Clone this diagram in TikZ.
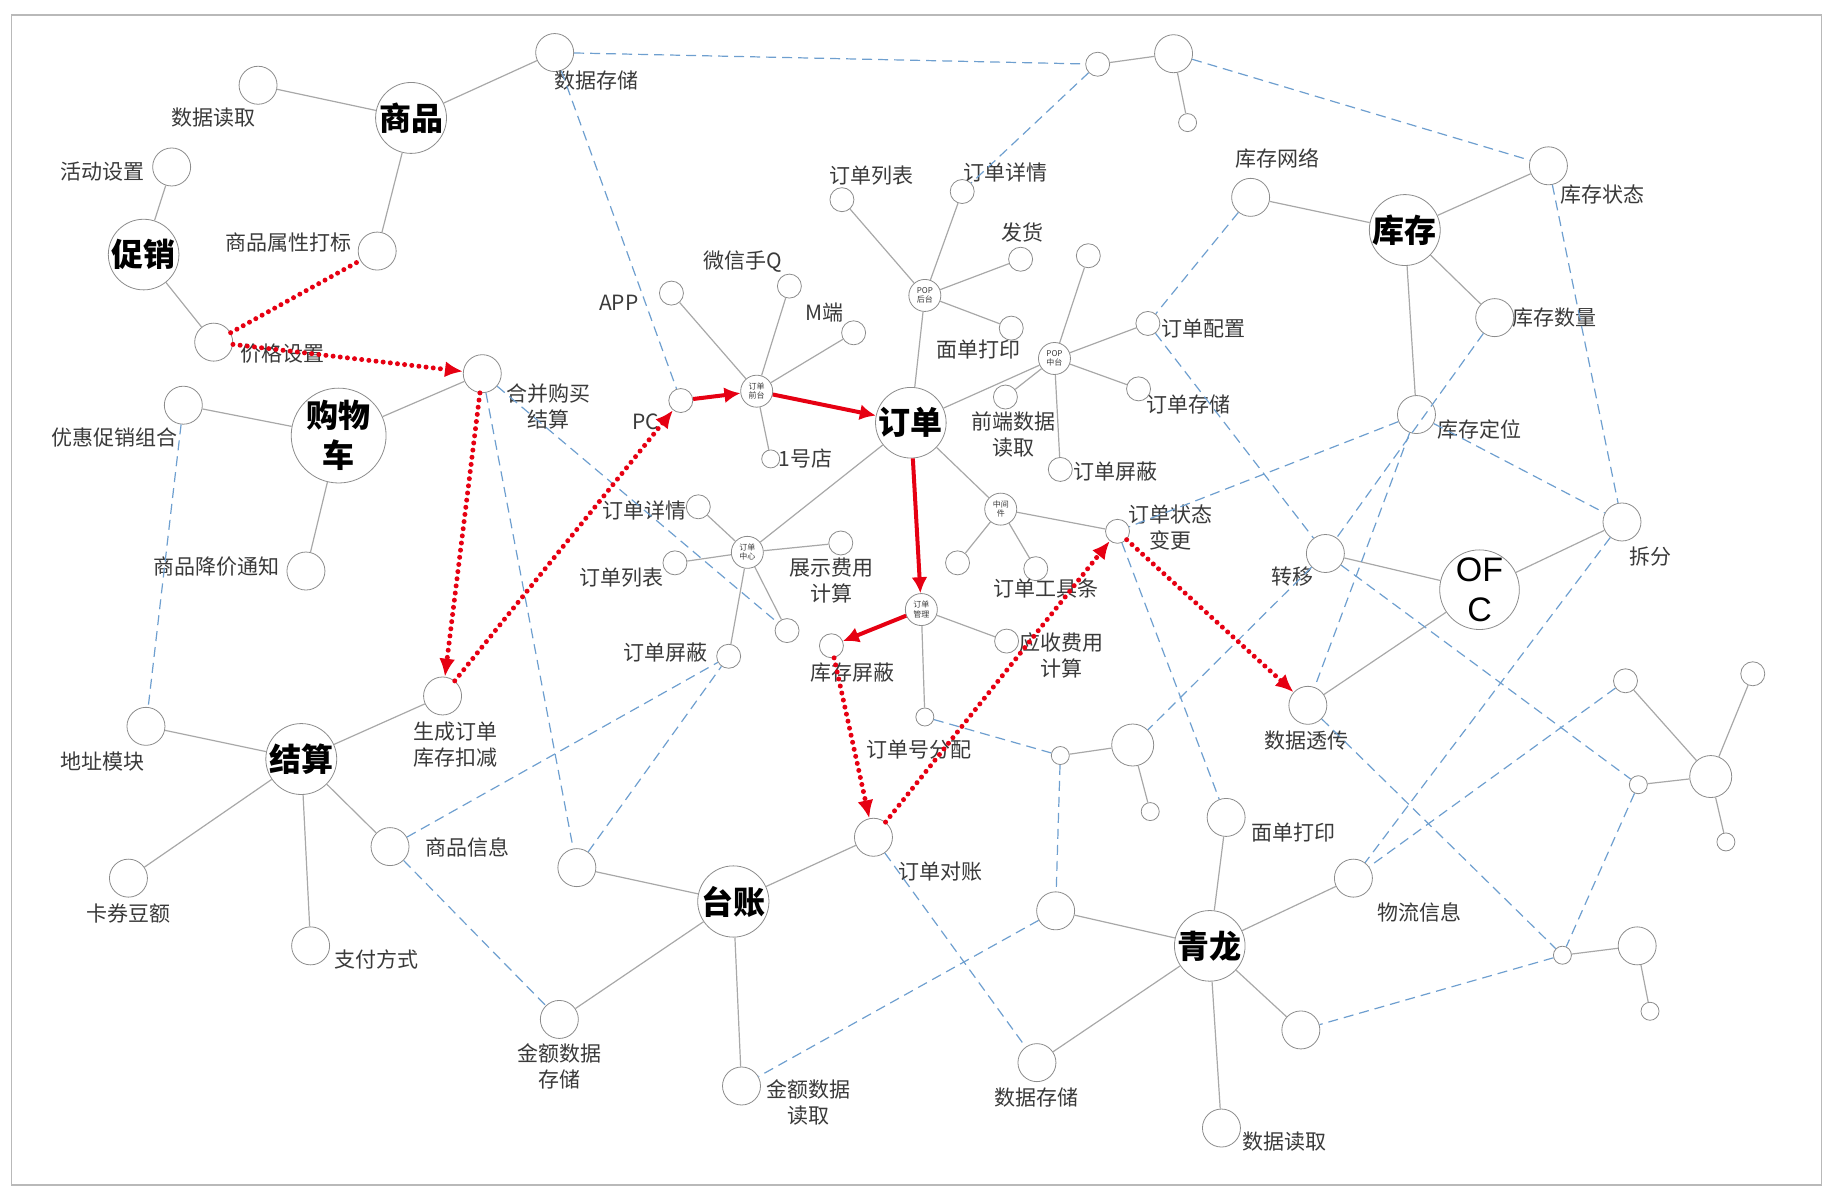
\documentclass[tikz,border=0pt]{standalone}
\usepackage{fontspec}
\setmainfont{Noto Sans CJK SC}
\newfontfamily\latinsans{Liberation Sans}
\usepackage{tikz}
\usetikzlibrary{arrows.meta,positioning}
\definecolor{NodeGray}{HTML}{8C8C8C}
\definecolor{LinkGray}{HTML}{A8A8A8}
\definecolor{LinkBlue}{HTML}{6E9FCF}
\definecolor{FlowRed}{HTML}{E60012}
\definecolor{TextGray}{HTML}{3A3A3A}

\begin{document}
\begin{tikzpicture}[x=0.5838pt,y=-0.5838pt, every node/.style={font=\fontsize{10.5}{13}\selectfont,text=TextGray}, hub/.style={circle,draw=NodeGray,fill=white,minimum size=35pt,inner sep=0pt,font=\fontsize{16}{20}\selectfont\bfseries,text=black,align=center}, leaf/.style={circle,draw=NodeGray,fill=white,minimum size=19pt,inner sep=0pt}, twig/.style={circle,draw=NodeGray,fill=white,minimum size=12pt,inner sep=0pt}, bud/.style={circle,draw=NodeGray,fill=white,minimum size=9pt,inner sep=0pt}, sub/.style={circle,draw=NodeGray,fill=white,minimum size=16pt,inner sep=0pt,font=\fontsize{4}{4.6}\selectfont,align=center}, lbl/.style={align=center,inner sep=1pt}, link/.style={draw=LinkGray,line width=0.6pt}, xlink/.style={draw=LinkBlue,line width=0.6pt,dash pattern=on 5pt off 3pt}, flow/.style={draw=FlowRed,line width=2pt,-{Latex[length=8pt,width=8pt]}}, trace/.style={draw=FlowRed,line width=2.5pt,line cap=round,dash pattern=on 0pt off 3.6pt}, trace arrow/.style={trace,-{Latex[length=9pt,width=8pt]}}]
\useasboundingbox (0,0) rectangle (1568,1019);
\draw[gray!55,line width=0.8pt] (10,13) rectangle (1560,1015);

% hubs
\node[hub] (goods) at (352,101) {商品};
\node[hub] (promo) at (123,218) {促销};
\node[hub] (cart) at (290,373) {购物\\车};
\node[hub] (settle) at (258,650) {结算};
\node[hub] (ledger) at (628,772) {台账};
\node[hub] (order) at (780,362) {订单};
\node[hub] (stock) at (1203,197) {库存};
\node[hub,font=\fontsize{17}{20}\selectfont\latinsans] (ofc) at (1267,505) {OF\\C};
\node[hub] (qinglong) at (1036,810) {青龙};

% sub centres
\node[sub] (front) at (648,335) {订单\\前台};
\node[sub] (popb) at (792,253) {POP\\后台};
\node[sub] (popm) at (903,307) {POP\\中台};
\node[sub] (mware) at (857,436) {中间\\件};
\node[sub] (ocenter) at (640,473) {订单\\中心};
\node[sub] (omgr) at (789,522) {订单\\管理};

% leaves
\node[leaf] (g-read) at (221,73) {};
\node[leaf] (g-store) at (475,45) {};
\node[leaf] (p-act) at (147,143) {};
\node[leaf] (g-tag) at (323,215) {};
\node[leaf] (p-price) at (183,293) {};
\node[leaf] (c-merge) at (413,320) {};
\node[leaf] (c-combo) at (157,347) {};
\node[leaf] (c-notify) at (262,489) {};
\node[leaf] (s-addr) at (125,622) {};
\node[leaf] (s-gen) at (379,596) {};
\node[leaf] (s-card) at (110,752) {};
\node[leaf] (s-pay) at (266,810) {};
\node[leaf] (s-info) at (334,725) {};
\node[leaf] (l-x) at (494,743) {};
\node[leaf] (l-store) at (479,873) {};
\node[leaf] (l-read) at (635,930) {};
\node[leaf] (l-check) at (748,717) {};
\node[leaf] (q-store) at (888,910) {};
\node[leaf] (q-x) at (904,780) {};
\node[leaf] (q-print) at (1050,700) {};
\node[leaf] (q-logi) at (1159,752) {};
\node[leaf] (q-y) at (1114,882) {};
\node[leaf] (q-read) at (1046,966) {};
\node[leaf] (k-net) at (1071,169) {};
\node[leaf] (k-state) at (1326,142) {};
\node[leaf] (k-num) at (1280,272) {};
\node[leaf] (k-loc) at (1213,355) {};
\node[leaf] (o-move) at (1135,474) {};
\node[leaf] (o-pass) at (1120,604) {};
\node[leaf] (o-split) at (1389,447) {};
\node[leaf] (top-hub) at (1005,46) {};
\node[leaf,minimum size=21pt] (e-hub) at (970,638) {};
\node[leaf,minimum size=21pt] (r-hub) at (1465,665) {};
\node[leaf] (r2-hub) at (1402,810) {};

% twigs
\node[twig] (app) at (575,251) {};
\node[twig] (wx) at (676,245) {};
\node[twig] (mweb) at (731,285) {};
\node[twig] (pc) at (583,343) {};
\node[twig] (pop-list) at (721,171) {};
\node[twig] (pop-detail) at (824,164) {};
\node[twig] (pop-ship) at (874,222) {};
\node[twig] (pop-print) at (866,281) {};
\node[twig] (mid-x) at (932,219) {};
\node[twig] (mid-conf) at (983,277) {};
\node[twig] (mid-save) at (975,333) {};
\node[twig] (mid-read) at (861,340) {};
\node[twig] (mid-mask) at (908,402) {};
\node[twig] (mw-x) at (820,482) {};
\node[twig] (mw-bar) at (887,487) {};
\node[twig] (mw-state) at (957,455) {};
\node[twig] (oc-detail) at (598,434) {};
\node[twig] (oc-list) at (578,482) {};
\node[twig] (oc-fee) at (720,465) {};
\node[twig] (oc-x) at (674,540) {};
\node[twig] (oc-mask) at (624,562) {};
\node[twig] (om-stock) at (712,553) {};
\node[twig] (om-fee) at (862,549) {};
\node[twig] (top-a) at (940,55) {};
\node[twig] (r-a) at (1392,583) {};
\node[twig] (r-b) at (1501,577) {};
\node[bud] (shop1) at (660,393) {};
\node[bud] (om-no) at (792,614) {};
\node[bud] (top-b) at (1017,105) {};
\node[bud] (e-a) at (908,647) {};
\node[bud] (e-b) at (985,695) {};
\node[bud] (r-c) at (1403,672) {};
\node[bud] (r-d) at (1478,721) {};
\node[bud] (r2-a) at (1338,818) {};
\node[bud] (r2-b) at (1413,866) {};

% labels
\node[lbl] (g-read-t) at (183,101) {数据读取};
\node[lbl] (g-store-t) at (511,69) {数据存储};
\node[lbl] (p-act-t) at (88,147) {活动设置};
\node[lbl] (g-tag-t) at (247,208) {商品属性打标};
\node[lbl] (p-price-t) at (242,303) {价格设置};
\node[lbl] (c-merge-t) at (470,348) {合并购买\\结算};
\node[lbl] (c-combo-t) at (98,375) {优惠促销组合};
\node[lbl] (c-notify-t) at (185,485) {商品降价通知};
\node[lbl] (s-addr-t) at (88,652) {地址模块};
\node[lbl] (s-gen-t) at (390,638) {生成订单\\库存扣减};
\node[lbl] (s-card-t) at (110,782) {卡券豆额};
\node[lbl] (s-pay-t) at (322,822) {支付方式};
\node[lbl] (s-info-t) at (400,726) {商品信息};
\node[lbl] (l-store-t) at (479,913) {金额数据\\存储};
\node[lbl] (l-read-t) at (692,944) {金额数据\\读取};
\node[lbl] (l-check-t) at (805,746) {订单对账};
\node[lbl] (q-store-t) at (888,940) {数据存储};
\node[lbl] (q-print-t) at (1108,713) {面单打印};
\node[lbl] (q-logi-t) at (1216,781) {物流信息};
\node[lbl] (q-read-t) at (1100,978) {数据读取};
\node[lbl] (app-t) at (530,259) {APP};
\node[lbl] (wx-t) at (636,224) {微信手Q};
\node[lbl] (mweb-t) at (706,268) {M端};
\node[lbl] (pc-t) at (553,361) {PC};
\node[lbl] (shop1-t) at (690,393) {1号店};
\node[lbl] (pop-list-t) at (746,150) {订单列表};
\node[lbl] (pop-detail-t) at (861,148) {订单详情};
\node[lbl] (pop-ship-t) at (876,199) {发货};
\node[lbl] (pop-print-t) at (838,299) {面单打印};
\node[lbl] (mid-conf-t) at (1031,281) {订单配置};
\node[lbl] (mid-save-t) at (1018,346) {订单存储};
\node[lbl] (mid-read-t) at (868,372) {前端数据\\读取};
\node[lbl] (mid-mask-t) at (955,404) {订单屏蔽};
\node[lbl] (mw-bar-t) at (896,504) {订单工具条};
\node[lbl] (mw-state-t) at (1002,452) {订单状态\\变更};
\node[lbl] (oc-detail-t) at (552,437) {订单详情};
\node[lbl] (oc-list-t) at (532,495) {订单列表};
\node[lbl] (oc-fee-t) at (712,497) {展示费用\\计算};
\node[lbl] (oc-mask-t) at (570,559) {订单屏蔽};
\node[lbl] (om-stock-t) at (730,576) {库存屏蔽};
\node[lbl] (om-fee-t) at (909,561) {应收费用\\计算};
\node[lbl] (om-no-t) at (787,642) {订单号分配};
\node[lbl] (k-net-t) at (1094,136) {库存网络};
\node[lbl] (k-state-t) at (1372,167) {库存状态};
\node[lbl] (k-num-t) at (1331,272) {库存数量};
\node[lbl] (k-loc-t) at (1267,368) {库存定位};
\node[lbl] (o-move-t) at (1107,494) {转移};
\node[lbl] (o-pass-t) at (1119,634) {数据透传};
\node[lbl] (o-split-t) at (1413,477) {拆分};

% solid links
\draw[link] (goods) -- (g-read) (goods) -- (g-store) (goods) -- (g-tag);
\draw[link] (promo) -- (p-act) (promo) -- (p-price);
\draw[link] (cart) -- (c-combo) (cart) -- (c-merge) (cart) -- (c-notify);
\draw[link] (settle) -- (s-addr) (settle) -- (s-gen) (settle) -- (s-card) (settle) -- (s-pay) (settle) -- (s-info);
\draw[link] (ledger) -- (l-x) (ledger) -- (l-check) (ledger) -- (l-store) (ledger) -- (l-read);
\draw[link] (qinglong) -- (q-x) (qinglong) -- (q-print) (qinglong) -- (q-logi) (qinglong) -- (q-y) (qinglong) -- (q-read) (qinglong) -- (q-store);
\draw[link] (stock) -- (k-net) (stock) -- (k-state) (stock) -- (k-num) (stock) -- (k-loc);
\draw[link] (ofc) -- (o-move) (ofc) -- (o-split) (ofc) -- (o-pass);
\draw[link] (front) -- (app) (front) -- (wx) (front) -- (mweb) (front) -- (shop1);
\draw[link] (order) -- (popb) (order) -- (popm) (order) -- (mware) (order) -- (ocenter);
\draw[link] (popb) -- (pop-list) (popb) -- (pop-detail) (popb) -- (pop-ship) (popb) -- (pop-print);
\draw[link] (popm) -- (mid-x) (popm) -- (mid-conf) (popm) -- (mid-save) (popm) -- (mid-read) (popm) -- (mid-mask);
\draw[link] (mware) -- (mw-x) (mware) -- (mw-bar) (mware) -- (mw-state);
\draw[link] (ocenter) -- (oc-detail) (ocenter) -- (oc-list) (ocenter) -- (oc-fee) (ocenter) -- (oc-x) (ocenter) -- (oc-mask);
\draw[link] (omgr) -- (om-fee) (omgr) -- (om-no);
\draw[link] (top-hub) -- (top-a) (top-hub) -- (top-b);
\draw[link] (e-hub) -- (e-a) (e-hub) -- (e-b);
\draw[link] (r-hub) -- (r-a) (r-hub) -- (r-b) (r-hub) -- (r-c) (r-hub) -- (r-d);
\draw[link] (r2-hub) -- (r2-a) (r2-hub) -- (r2-b);

% dashed cross links
\draw[xlink] (g-store) -- (top-a);
\draw[xlink] (g-store) -- (pc);
\draw[xlink] (top-a) -- (pop-detail);
\draw[xlink] (top-hub) -- (k-state);
\draw[xlink] (k-net) -- (mid-conf);
\draw[xlink] (mid-conf) -- (o-move);
\draw[xlink] (k-state) -- (o-split);
\draw[xlink] (k-num) -- (o-move);
\draw[xlink] (o-move) -- (e-hub);
\draw[xlink] (k-loc) -- (mw-state);
\draw[xlink] (k-loc) -- (o-split);
\draw[xlink] (k-loc) -- (o-pass);
\draw[xlink] (o-move) -- (r-c);
\draw[xlink] (o-split) -- (q-logi);
\draw[xlink] (r-a) -- (q-logi);
\draw[xlink] (r-c) -- (r2-a);
\draw[xlink] (r2-a) -- (q-y);
\draw[xlink] (o-pass) -- (r2-a);
\draw[xlink] (mw-state) -- (q-print);
\draw[xlink] (om-no) -- (e-a);
\draw[xlink] (e-a) -- (q-x);
\draw[xlink] (q-x) -- (l-read);
\draw[xlink] (l-check) -- (q-store);
\draw[xlink] (s-info) -- (l-store);
\draw[xlink] (s-info) -- (oc-mask);
\draw[xlink] (l-x) -- (oc-mask);
\draw[xlink] (c-merge) -- (l-x);
\draw[xlink] (c-merge) -- (oc-x);
\draw[xlink] (c-combo) -- (s-addr);

% red flow
\draw[flow] (pc) -- (front);
\draw[flow] (front) -- (order);
\draw[flow] (order) -- (omgr);
\draw[flow] (omgr) -- (om-stock);
\draw[trace] (p-price) -- (g-tag);
\draw[trace arrow] (p-price) -- (c-merge);
\draw[trace arrow] (c-merge) -- (s-gen);
\draw[trace arrow] (s-gen) -- (pc);
\draw[trace arrow] (om-stock) -- (l-check);
\draw[trace arrow] (l-check) -- (mw-state);
\draw[trace arrow] (mw-state) -- (o-pass);
\end{tikzpicture}
\end{document}
